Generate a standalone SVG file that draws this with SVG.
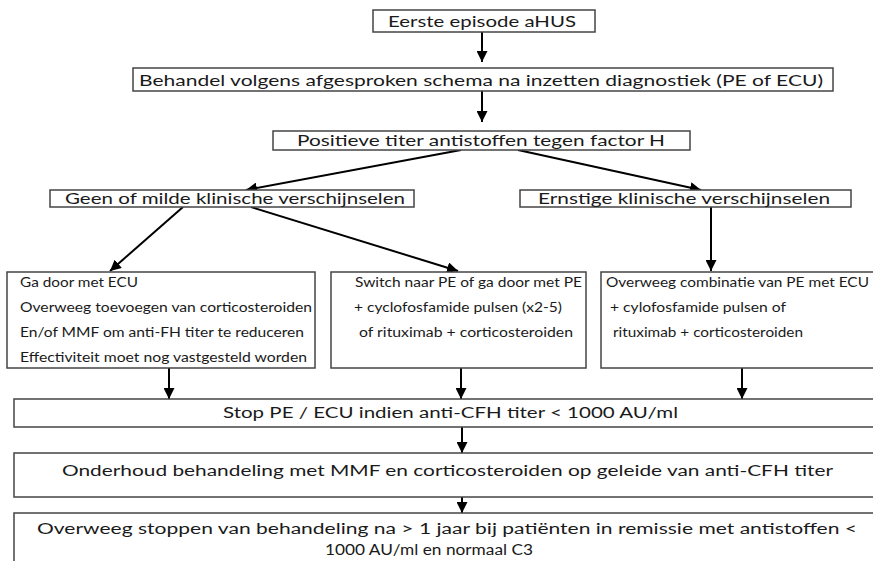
<svg xmlns="http://www.w3.org/2000/svg" width="873" height="561" viewBox="0 0 873 561">
<style>
.box{fill:#fff;stroke:#444;stroke-width:1.5}
.t{font-family:"Lato","Liberation Sans",sans-serif;fill:#1a1a1a}
.big{font-size:16px}
.med{font-size:15.5px}
.sm{font-size:12.5px}
.c{stroke:#000;stroke-width:2;fill:none;marker-end:url(#ah)}
</style>
<defs>
<marker id="ah" viewBox="0 0 10 10" refX="10" refY="5" markerWidth="5.5" markerHeight="5.5" orient="auto" markerUnits="strokeWidth">
<path d="M0,0 L10,5 L0,10 z" fill="#000"/>
</marker>
</defs>
<rect width="873" height="561" fill="#fff"/>
<g id="connectors">
<line class="c" x1="482" y1="32" x2="482" y2="62"/>
<line class="c" x1="482" y1="91" x2="482" y2="122"/>
<line class="c" x1="461" y1="150" x2="246" y2="190"/>
<line class="c" x1="518" y1="150" x2="701" y2="190"/>
<line class="c" x1="183" y1="207" x2="110" y2="271"/>
<line class="c" x1="251" y1="207" x2="458" y2="271"/>
<line class="c" x1="711" y1="207" x2="711" y2="271"/>
<line class="c" x1="169" y1="368" x2="169" y2="399"/>
<line class="c" x1="461" y1="368" x2="461" y2="399"/>
<line class="c" x1="742" y1="368" x2="742" y2="399"/>
<line class="c" x1="462" y1="427" x2="462" y2="453"/>
<line class="c" x1="462" y1="497" x2="462" y2="513"/>
</g>
<g id="n1">
<rect class="box" x="373" y="10" width="222" height="22"/>
<text class="t big" x="388" y="27" textLength="188" lengthAdjust="spacingAndGlyphs">Eerste episode aHUS</text>
</g>
<g id="n2">
<rect class="box" x="133" y="68" width="700" height="23"/>
<text class="t big" x="139" y="86" textLength="684" lengthAdjust="spacingAndGlyphs">Behandel volgens afgesproken schema na inzetten diagnostiek (PE of ECU)</text>
</g>
<g id="n3">
<rect class="box" x="273" y="131" width="417" height="19"/>
<text class="t big" x="297" y="146" textLength="368" lengthAdjust="spacingAndGlyphs">Positieve titer antistoffen tegen factor H</text>
</g>
<g id="n4">
<rect class="box" x="50" y="190" width="364" height="17"/>
<text class="t big" x="65" y="204" textLength="340" lengthAdjust="spacingAndGlyphs">Geen of milde klinische verschijnselen</text>
</g>
<g id="n5">
<rect class="box" x="520" y="190" width="331" height="17"/>
<text class="t big" x="538" y="204" textLength="292" lengthAdjust="spacingAndGlyphs">Ernstige klinische verschijnselen</text>
</g>
<g id="n6">
<rect class="box" x="7" y="272" width="308" height="96"/>
<text class="t sm" x="20" y="287" textLength="118" lengthAdjust="spacingAndGlyphs">Ga door met ECU</text>
<text class="t sm" x="20" y="312" textLength="292" lengthAdjust="spacingAndGlyphs">Overweeg toevoegen van corticosteroiden</text>
<text class="t sm" x="20" y="337" textLength="284" lengthAdjust="spacingAndGlyphs">En/of MMF om anti-FH titer te reduceren</text>
<text class="t sm" x="20" y="362" textLength="287" lengthAdjust="spacingAndGlyphs">Effectiviteit moet nog vastgesteld worden</text>
</g>
<g id="n7">
<rect class="box" x="331" y="272" width="255" height="96"/>
<text class="t sm" x="355" y="287" textLength="227" lengthAdjust="spacingAndGlyphs">Switch naar PE of ga door met PE</text>
<text class="t sm" x="354" y="312" textLength="208" lengthAdjust="spacingAndGlyphs">+ cyclofosfamide pulsen (x2-5)</text>
<text class="t sm" x="359" y="337" textLength="214" lengthAdjust="spacingAndGlyphs">of rituximab + corticosteroiden</text>
</g>
<g id="n8">
<rect class="box" x="601" y="272" width="280" height="96"/>
<text class="t sm" x="606" y="287" textLength="263" lengthAdjust="spacingAndGlyphs">Overweeg combinatie van PE met ECU</text>
<text class="t sm" x="610" y="312" textLength="176" lengthAdjust="spacingAndGlyphs">+ cylofosfamide pulsen of</text>
<text class="t sm" x="613" y="337" textLength="190" lengthAdjust="spacingAndGlyphs">rituximab + corticosteroiden</text>
</g>
<g id="n9">
<rect class="box" x="14" y="399" width="870" height="28"/>
<text class="t med" x="223" y="418" textLength="455" lengthAdjust="spacingAndGlyphs">Stop PE / ECU indien anti-CFH titer &lt; 1000 AU/ml</text>
</g>
<g id="n10">
<rect class="box" x="14" y="453" width="870" height="44"/>
<text class="t med" x="62" y="476" textLength="771" lengthAdjust="spacingAndGlyphs">Onderhoud behandeling met MMF en corticosteroiden op geleide van anti-CFH titer</text>
</g>
<g id="n11">
<rect class="box" x="14" y="513" width="870" height="60"/>
<text class="t med" x="37" y="534" textLength="820" lengthAdjust="spacingAndGlyphs">Overweeg stoppen van behandeling na &gt; 1 jaar bij patiënten in remissie met antistoffen &lt;</text>
<text class="t med" x="325" y="555" textLength="208" lengthAdjust="spacingAndGlyphs">1000 AU/ml en normaal C3</text>
</g>
</svg>
